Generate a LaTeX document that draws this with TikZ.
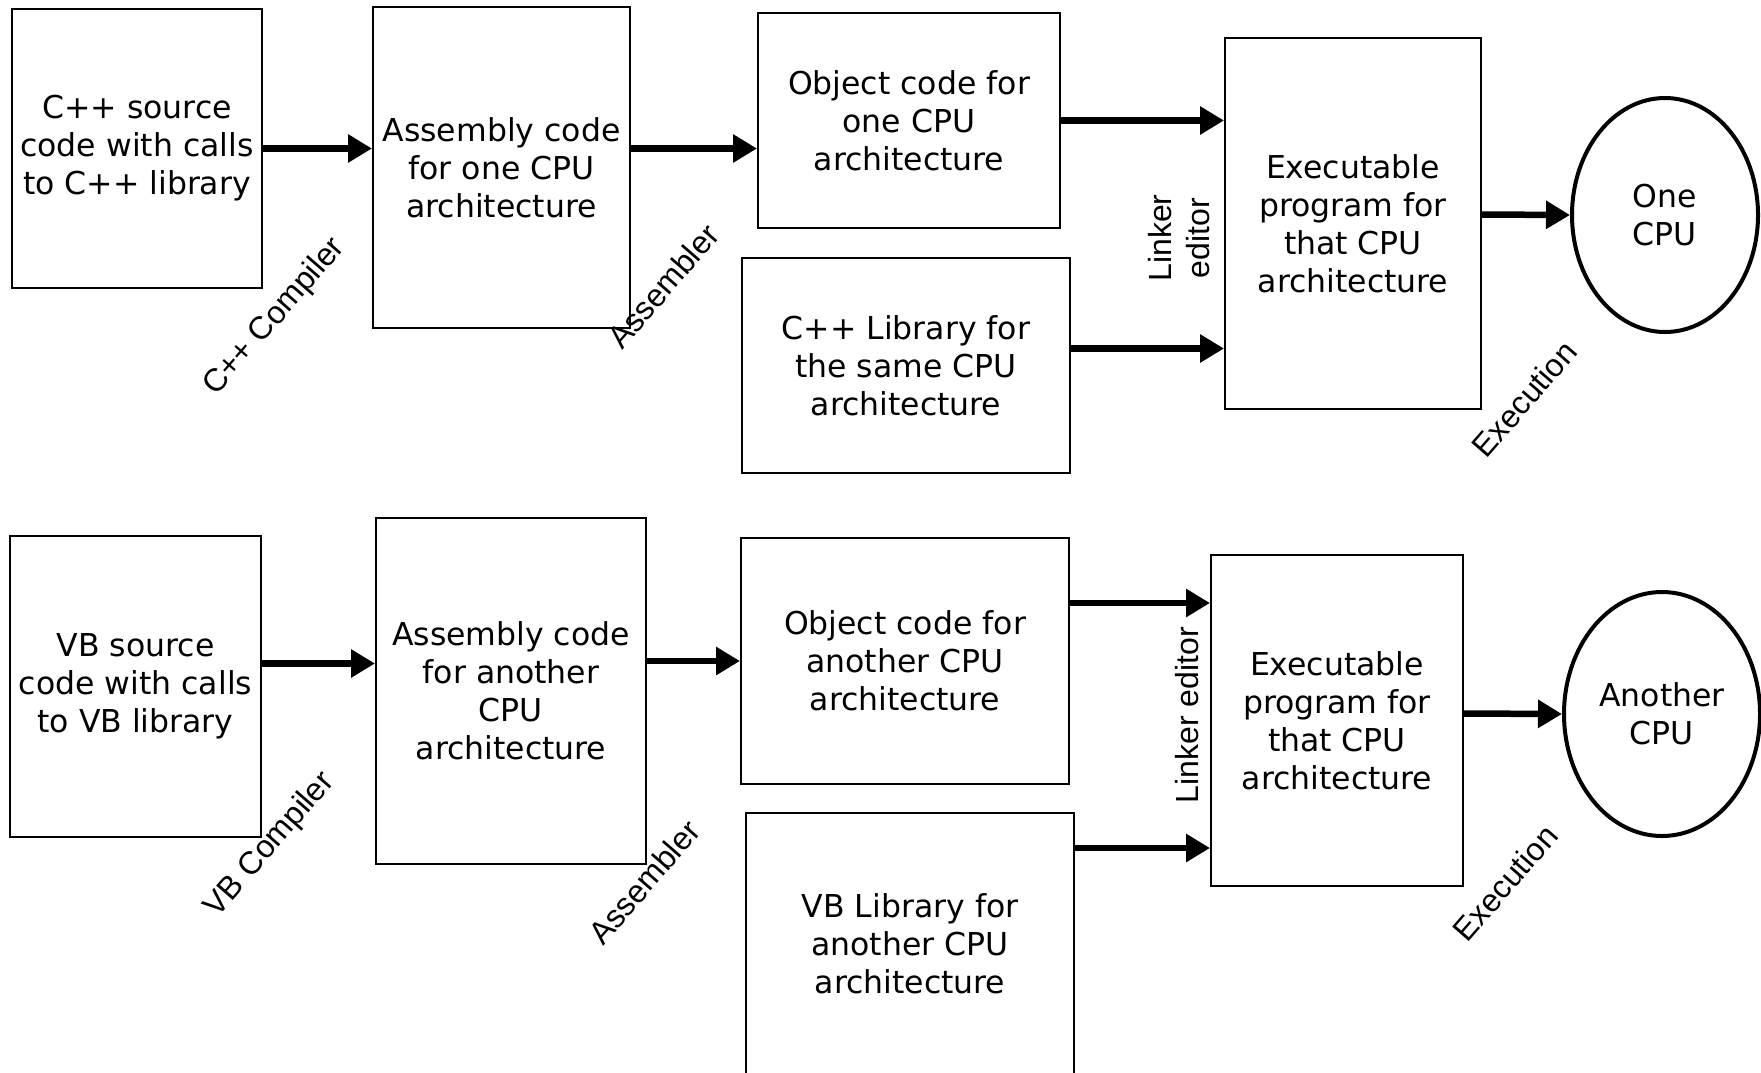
\documentclass[tikz,border=0pt]{standalone}
\usepackage{fontspec}
\setmainfont{DejaVu Sans}
\newfontfamily\lblfont{Liberation Sans}
\usetikzlibrary{arrows.meta,shapes.geometric}

\begin{document}
\begin{tikzpicture}[x=1pt,y=-1pt,
  blk/.style={draw,line width=2pt,rectangle,align=center,inner sep=0pt,
    font=\fontsize{31.5}{38}\selectfont},
  cpu/.style={draw,line width=4pt,ellipse,align=center,inner sep=0pt,
    font=\fontsize{31.5}{38}\selectfont},
  lbl/.style={font=\lblfont\fontsize{32}{38}\selectfont,align=center,inner sep=0pt},
  flow/.style={line width=6.5pt,-{Triangle[length=24pt,width=27pt]}}]
\useasboundingbox (0,0) rectangle (1761,1072);
\node[blk,minimum width=250,minimum height=279](cpp)at(137,148.5){C++ source\\code with calls\\to C++ library};
\node[blk,minimum width=257,minimum height=321](asm)at(501.5,167.5){Assembly code\\for one CPU\\architecture};
\node[blk,minimum width=302,minimum height=215](obj)at(909,120.5){Object code for\\one CPU\\architecture};
\node[blk,minimum width=328,minimum height=215](lib)at(906,365.5){C++ Library for\\the same CPU\\architecture};
\node[blk,minimum width=256,minimum height=371](exe)at(1353,223.5){Executable\\program for\\that CPU\\architecture};
\node[cpu,minimum width=186,minimum height=234](one)at(1665,215){One\\CPU};
\node[blk,minimum width=251,minimum height=301](vbsrc)at(135.5,686.5){VB source\\code with calls\\to VB library};
\node[blk,minimum width=270,minimum height=346](asmb)at(511,691){Assembly code\\for another\\CPU\\architecture};
\node[blk,minimum width=328,minimum height=246](objb)at(905,661){Object code for\\another CPU\\architecture};
\node[blk,minimum width=328,minimum height=262](vblib)at(910,944){VB Library for\\another CPU\\architecture};
\node[blk,minimum width=252,minimum height=331](exeb)at(1337,720.5){Executable\\program for\\that CPU\\architecture};
\node[cpu,minimum width=196,minimum height=244](two)at(1662,714){Another\\CPU};
\draw[flow](cpp.east)--(cpp.east-|asm.west);
\draw[flow](asm.east|-cpp.east)--(obj.west|-cpp.east);
\draw[flow](obj.east)--(obj.east-|exe.west);
\draw[flow]([yshift=17pt]lib.east)--([yshift=17pt]lib.east-|exe.west);
\draw[flow]([yshift=9pt]exe.east)--(one.west);
\draw[flow]([yshift=23pt]vbsrc.east)--([yshift=23pt]vbsrc.east-|asmb.west);
\draw[flow](objb.west-|asmb.east)--(objb.west);
\draw[flow]([yshift=58pt]objb.east)--([yshift=58pt]objb.east-|exeb.west);
\draw[flow]([yshift=96pt]vblib.east)--([yshift=96pt]vblib.east-|exeb.west);
\draw[flow]([yshift=7pt]exeb.east)--(two.west);
\node[lbl,rotate=49](cc)at(275,317){C++ Compiler};
\node[lbl,rotate=49](as)at(663,286){Assembler};
\node[lbl,rotate=90](le)at(1179,238){Linker\\editor};
\node[lbl,rotate=49](ex)at(1524,399){Execution};
\node[lbl,rotate=49](vc)at(270,845){VB Compiler};
\node[lbl,rotate=49](asb)at(644,882){Assembler};
\node[lbl,rotate=90](leb)at(1187,715){Linker editor};
\node[lbl,rotate=49](exb)at(1505,883){Execution};
\end{tikzpicture}
\end{document}
